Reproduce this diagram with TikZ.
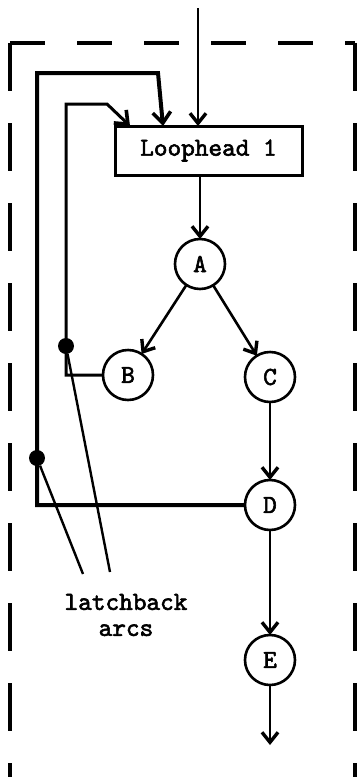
\documentclass[tikz,border=0pt]{standalone}
\usepackage{fontspec}
\usepackage{tikz}
\usetikzlibrary{arrows.meta}
\newfontfamily\tyfont{lmmono10-regular.otf}[AutoFakeBold=2.2]

\begin{document}
\begin{tikzpicture}[x=1pt,y=-1pt]
  \tikzset{VertexStyle/.style = {
    shape         = circle,
    draw          = black,
    fill          = white,
    line width    = 2.6pt,
    text          = black,
    inner sep     = 0pt,
    outer sep     = 0pt,
    minimum size  = 50pt,
    font          = \fontsize{26}{30}\tyfont\bfseries
    }
  }
  \tikzset{HeadStyle/.style = {
    shape         = rectangle,
    draw          = black,
    fill          = white,
    line width    = 3pt,
    text          = black,
    inner sep     = 0pt,
    outer sep     = 0pt,
    minimum width = 187pt,
    minimum height= 49pt,
    font          = \fontsize{26}{30}\tyfont\bfseries
    }
  }
  \tikzset{EdgeStyle/.style = {
    draw          = black,
    line width    = 2.6pt,
    -{Straight Barb[length=10pt,width=16pt,line width=3.4pt]}
    }
  }
  \tikzset{LatchStyle/.style = {
    draw          = black,
    line width    = 3pt,
    line join     = miter,
    -{Straight Barb[length=11pt,width=18pt,line width=3.6pt]}
    }
  }
  \tikzset{DotStyle/.style = {
    shape         = circle,
    fill          = black,
    inner sep     = 0pt,
    minimum size  = 16pt
    }
  }
  \tikzset{FrameStyle/.style = {
    draw          = black,
    line width    = 3.4pt
    }
  }

  \useasboundingbox (0,0) rectangle (357,777);

  % dashed region
  \draw[FrameStyle, dash pattern=on 48pt off 32pt] (10,43) -- (10,777);
  \draw[FrameStyle, dash pattern=on 35pt off 32pt] (10,43) -- (355,43);
  \draw[FrameStyle, dash pattern=on 48pt off 32pt] (355,43) -- (355,777);

  \node[HeadStyle](LH) at (208.5,150.5) {Loophead 1};
  \node[VertexStyle](A) at (200,264) {A};
  \node[VertexStyle](B) at (128,375) {B};
  \node[VertexStyle](C) at (270,377) {C};
  \node[VertexStyle](D) at (270,505) {D};
  \node[VertexStyle](E) at (270,660) {E};
  \node[DotStyle](Dot1) at (66,346) {};
  \node[DotStyle](Dot2) at (37,458) {};
  \node[align=center, font=\fontsize{26}{26}\tyfont\bfseries](Lbl) at (126,615) {latchback\\arcs};

  \coordinate (In) at (198,8);
  \coordinate (Out) at (270,745);
  \coordinate (OutL) at (37,73);
  \coordinate (OutR) at (158,73);
  \coordinate (OutTip) at (163,126);
  \coordinate (InL) at (66,104);
  \coordinate (InR) at (107,104);
  \coordinate (InTip) at (130,126);
  \coordinate (P1) at (110,572);
  \coordinate (P2) at (83,574);

  \draw[EdgeStyle, line width=1.6pt](In) to (In |- LH.north);
  \draw[EdgeStyle, line width=1.6pt](LH.south -| A.north) to (A.north);
  \draw[EdgeStyle](A) to (B);
  \draw[EdgeStyle](A) to (C);
  \draw[EdgeStyle](C) to (D);
  \draw[EdgeStyle](D) to (E);
  \draw[EdgeStyle](E) to (Out);

  \draw[LatchStyle, line width=4pt](D.west) -| (OutL) -- (OutR) -- (OutTip);
  \draw[LatchStyle](B.west) -| (InL) -- (InR) -- (InTip);

  \draw[line width=2.4pt](Dot1) -- (P1);
  \draw[line width=2.4pt](Dot2) -- (P2);

\end{tikzpicture}
\end{document}
